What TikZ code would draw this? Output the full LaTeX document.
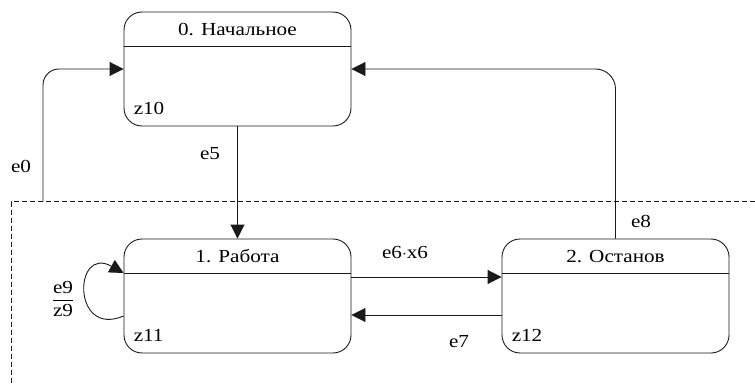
\documentclass[tikz,border=0pt]{standalone}
\usepackage{amsmath}
\usepackage{fontspec}
\setmainfont{Liberation Serif}[FakeStretch=1.15]
\usepackage{tikz}
\usetikzlibrary{arrows.meta, positioning, calc}
\definecolor{edgegray}{HTML}{1A1A1A}

\begin{document}
\begin{tikzpicture}[x=1pt, y=-1pt,
  state/.style={rectangle, draw=edgegray, line width=0.9pt, rounded corners=18pt,
    minimum width=227pt, minimum height=114pt},
  txt/.style={font=\fontsize{18.4}{22}\selectfont, inner sep=0pt},
  sname/.style={txt, anchor=base},
  act/.style={txt, anchor=base west},
  arrow/.style={-{Triangle[length=14pt, width=14pt]}, line width=0.9pt, color=edgegray},
  group/.style={dashed, dash pattern=on 5pt off 3pt, line width=0.7pt, color=edgegray}
]
  \useasboundingbox (0,0) rectangle (755,385);

  % states
  \node[state] (s0) at (237.5, 69)  {};
  \node[state] (s1) at (237.5, 296) {};
  \node[state] (s2) at (615.5, 296) {};

  \foreach \s/\name/\z in {s0/{0. Начальное}/z10, s1/{1. Работа}/z11, s2/{2. Останов}/z12} {
    \draw[edgegray, line width=0.9pt] ($(\s.north west)+(0,35)$) -- ($(\s.north east)+(0,35)$);
    \node[sname] (\s-name) at ($(\s.north)+(0,24)$) {\name};
    \node[act]   (\s-act)  at ($(\s.south west)+(10,-12)$) {\z};
  }

  % group border
  \draw[group] (755, 201.7) -| (11, 385);
  \coordinate (c0) at (43, 201.7);

  % transitions
  \draw[arrow, rounded corners=16pt] (c0) |- (s0.west);
  \draw[arrow, rounded corners=20pt] (s2.north) |- (s0.east);
  \draw[arrow] (s0.south) -- (s1.north);
  \draw[arrow] ($(s1.east)+(0,-19)$) -- ($(s2.west)+(0,-19)$);
  \draw[arrow] ($(s2.west)+(0,19)$) -- ($(s1.east)+(0,19)$);
  \draw[arrow] ($(s1.west)+(0,20)$) .. controls +(-52,22) and +(-50,-28) .. ($(s1.west)+(0,-23)$);

  % labels
  \node[txt] (l0) at (21, 166)  {e0};
  \node[txt] (l5) at (210, 154) {e5};
  \node[txt] (l6) at (405, 252) {e6$\cdot$x6};
  \node[txt] (l7) at (459, 342) {e7};
  \node[txt] (l8) at (641, 221) {e8};
  \node[txt] (l9) at (63, 299)  {$\dfrac{\text{e9}}{\text{z9}}$};
\end{tikzpicture}
\end{document}
